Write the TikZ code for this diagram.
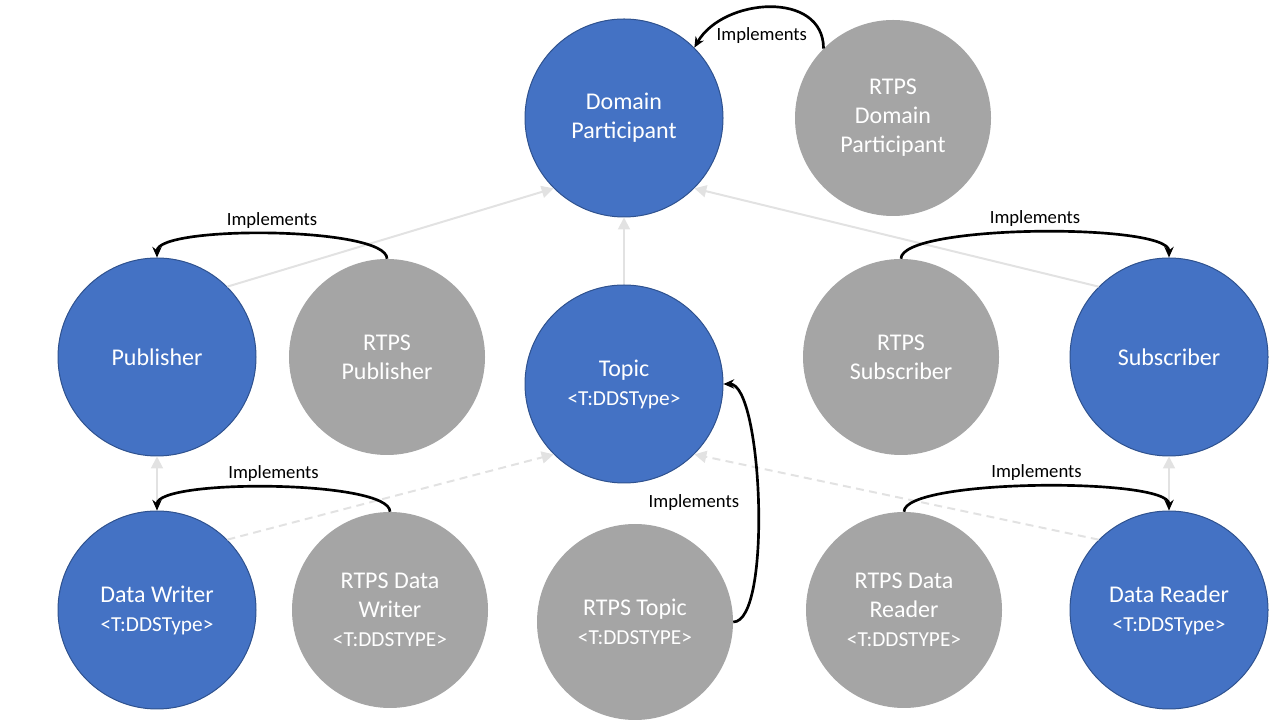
\documentclass[tikz,border=0pt]{standalone}
\usepackage{fontspec}
\setmainfont{Carlito}
\usetikzlibrary{arrows.meta}
\definecolor{ddsblue}{HTML}{4472C4}
\definecolor{ddsedge}{HTML}{2F528F}
\definecolor{rtpsgrey}{HTML}{A5A5A5}
\definecolor{linkgrey}{HTML}{E2E2E2}
\newcommand{\tmpl}[1]{{\fontsize{16}{18}\selectfont #1}}

\begin{document}
\begin{tikzpicture}[
  x=0.75pt, y=0.75pt,
  dds/.style={
    circle, fill=ddsblue, draw=ddsedge, line width=0.75pt,
    minimum size=148.5pt, inner sep=0pt, align=center, text=white,
    font=\fontsize{18}{21.75}\selectfont
  },
  rtps/.style={
    circle, fill=rtpsgrey, minimum size=147pt, inner sep=0pt,
    align=center, text=white, font=\fontsize{18}{21.75}\selectfont
  },
  dep/.style={-{Triangle[length=9pt,width=9pt]}, line width=1.5pt, linkgrey},
  impl/.style={-{Stealth[length=8pt,width=7pt]}, line width=2pt, black},
  lbl/.style={font=\fontsize{14}{16}\selectfont, inner sep=1pt}
]
  \useasboundingbox (0,0) rectangle (1280,720);

  % DDS entities
  \node[dds] (dp) at (624,602) {Domain\\Participant};
  \node[dds] (pub) at (157,363) {Publisher};
  \node[dds] (topic) at (624,336) {Topic\\\tmpl{<T:DDSType>}};
  \node[dds] (sub) at (1169,363) {Subscriber};
  \node[dds] (dw) at (157,110) {Data Writer\\\tmpl{<T:DDSType>}};
  \node[dds] (dr) at (1169,110) {Data Reader\\\tmpl{<T:DDSType>}};

  % RTPS entities
  \node[rtps] (rtpsdp) at (893,602) {RTPS\\Domain\\Participant};
  \node[rtps] (rtpspub) at (387,363) {RTPS\\Publisher};
  \node[rtps] (rtpssub) at (901,363) {RTPS\\Subscriber};
  \node[rtps] (rtpsdw) at (390,110) {RTPS Data\\Writer\\\tmpl{<T:DDSTYPE>}};
  \node[rtps] (rtpstopic) at (635,98) {RTPS Topic\\\tmpl{<T:DDSTYPE>}};
  \node[rtps] (rtpsdr) at (904,110) {RTPS Data\\Reader\\\tmpl{<T:DDSTYPE>}};

  % dependencies
  \draw[dep] (pub.north east) -- (dp.south west);
  \draw[dep] (topic.north) -- (dp.south);
  \draw[dep] (sub.north west) -- (dp.south east);
  \draw[dep] (dw.north) -- (pub.south);
  \draw[dep] (dr.north) -- (sub.south);
  \draw[dep, dash pattern=on 6pt off 4pt] (dw.north east) -- (topic.south west);
  \draw[dep, dash pattern=on 6pt off 4pt] (dr.north west) -- (topic.south east);

  % implements
  \draw[impl] (rtpsdp.north west) to[out=90, in=60, looseness=1.15]
    node[lbl, below=13pt, xshift=-6pt] (impldp) {Implements} (dp.north east);
  \draw[impl] (rtpspub.north) to[out=90, in=90, looseness=0.36]
    node[lbl, above=2pt] (implpub) {Implements} (pub.north);
  \draw[impl] (rtpssub.north) to[out=90, in=90, looseness=0.33]
    node[lbl, above=2pt] (implsub) {Implements} (sub.north);
  \draw[impl] (rtpsdw.north) to[out=90, in=90, looseness=0.35]
    node[lbl, above=2pt] (impldw) {Implements} (dw.north);
  \draw[impl] (rtpsdr.north) to[out=90, in=90, looseness=0.32]
    node[lbl, above=2pt] (impldr) {Implements} (dr.north);
  \draw[impl] (rtpstopic.east) to[out=0, in=0, looseness=0.42]
    node[lbl, left=12pt] (impltopic) {Implements} (topic.east);
\end{tikzpicture}
\end{document}
